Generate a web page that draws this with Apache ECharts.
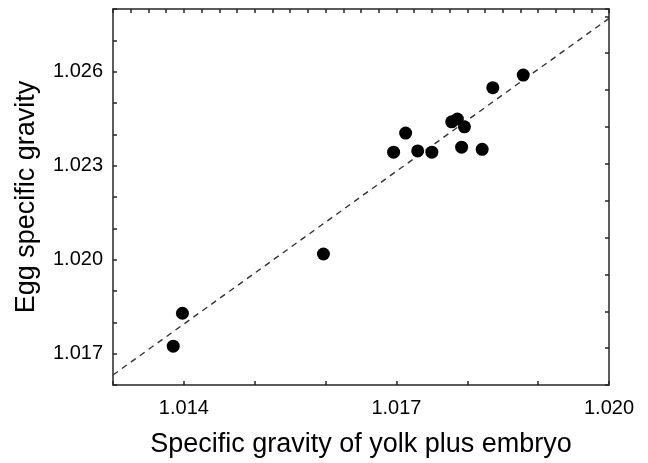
<!DOCTYPE html>
<html>
<head>
<meta charset="utf-8">
<script src="https://cdn.jsdelivr.net/npm/echarts@6/dist/echarts.min.js"></script>
<style>
html,body{margin:0;padding:0;background:#fff;}
#chart{width:648px;height:463px;}
</style>
</head>
<body>
<div id="chart"></div>
<script>
// Data
const yolkEmbryoSG = [1.01385, 1.01398, 1.01597, 1.01696, 1.01713, 1.01730, 1.01750, 1.01778, 1.01786, 1.01796, 1.01792, 1.01821, 1.01836, 1.01879];
const eggSG        = [1.01724, 1.01829, 1.02018, 1.02343, 1.02404, 1.02347, 1.02343, 1.02440, 1.02449, 1.02424, 1.02359, 1.02352, 1.02549, 1.02589];
const fitX = [1.013, 1.020];
const fitY = [1.01632, 1.0277];
const xTickLabels = ['1.014', '1.017', '1.020'];
const yTickLabels = ['1.017', '1.020', '1.023', '1.026'];
const xTitle = 'Specific gravity of yolk plus embryo';
const yTitle = 'Egg specific gravity';

const pts = yolkEmbryoSG.map((x, i) => [x, eggSG[i]]);
const fitLine = fitX.map((x, i) => [x, fitY[i]]);

const frame = '#262626';
const font = '"Liberation Sans", Arial, sans-serif';

const chart = echarts.init(document.getElementById('chart'));
chart.setOption({
  animation: false,
  backgroundColor: '#fff',
  grid: {left: 113, top: 9, width: 496, height: 376, containLabel: false, outerBoundsMode: 'none'},
  xAxis: [{
    type: 'value', min: 1.013, max: 1.020, interval: 0.001,
    position: 'bottom',
    name: xTitle, nameLocation: 'middle', nameGap: 46,
    nameTextStyle: {fontFamily: font, fontSize: 27, color: '#000'},
    axisLine: {show: true, onZero: false, lineStyle: {color: frame, width: 1.5}},
    axisTick: {show: true, inside: true, length: 4, lineStyle: {color: frame, width: 1.5}},
    splitLine: {show: false},
    axisLabel: {
      margin: 13, fontFamily: font, fontSize: 20, color: '#000',
      formatter: v => { const s = v.toFixed(3); return xTickLabels.includes(s) ? s : ''; }
    }
  }, {
    type: 'value', min: 0, max: 28, interval: 1,
    position: 'top',
    axisLine: {show: true, onZero: false, lineStyle: {color: frame, width: 1.5}},
    axisTick: {show: true, inside: true, length: 4, lineStyle: {color: frame, width: 1.5}},
    splitLine: {show: false},
    axisLabel: {show: false}
  }],
  yAxis: [{
    type: 'value', min: 1.016, max: 1.028, interval: 0.001,
    position: 'left',
    name: yTitle, nameLocation: 'middle', nameGap: 73, nameRotate: 90,
    nameTextStyle: {fontFamily: font, fontSize: 27, color: '#000'},
    axisLine: {show: true, onZero: false, lineStyle: {color: frame, width: 1.5}},
    axisTick: {show: true, inside: true, length: 4, lineStyle: {color: frame, width: 1.5}},
    splitLine: {show: false},
    axisLabel: {
      margin: 10, fontFamily: font, fontSize: 20, color: '#000',
      formatter: v => { const s = v.toFixed(3); return yTickLabels.includes(s) ? s : ''; }
    }
  }, {
    type: 'value', min: 0, max: 10.2, interval: 1,
    position: 'right',
    axisLine: {show: true, onZero: false, lineStyle: {color: frame, width: 1.5}},
    axisTick: {show: true, inside: true, length: 4, lineStyle: {color: frame, width: 1.5}},
    splitLine: {show: false},
    axisLabel: {show: false}
  }],
  series: [{
    type: 'line', xAxisIndex: 0, yAxisIndex: 0,
    data: fitLine, symbol: 'none', silent: true,
    lineStyle: {color: '#333', width: 1.4, type: [6, 5]},
    z: 1
  }, {
    type: 'scatter', xAxisIndex: 0, yAxisIndex: 0,
    data: pts, symbol: 'circle', symbolSize: 13,
    itemStyle: {color: '#000', opacity: 1},
    emphasis: {disabled: true},
    z: 3
  }]
});
</script>
</body>
</html>
